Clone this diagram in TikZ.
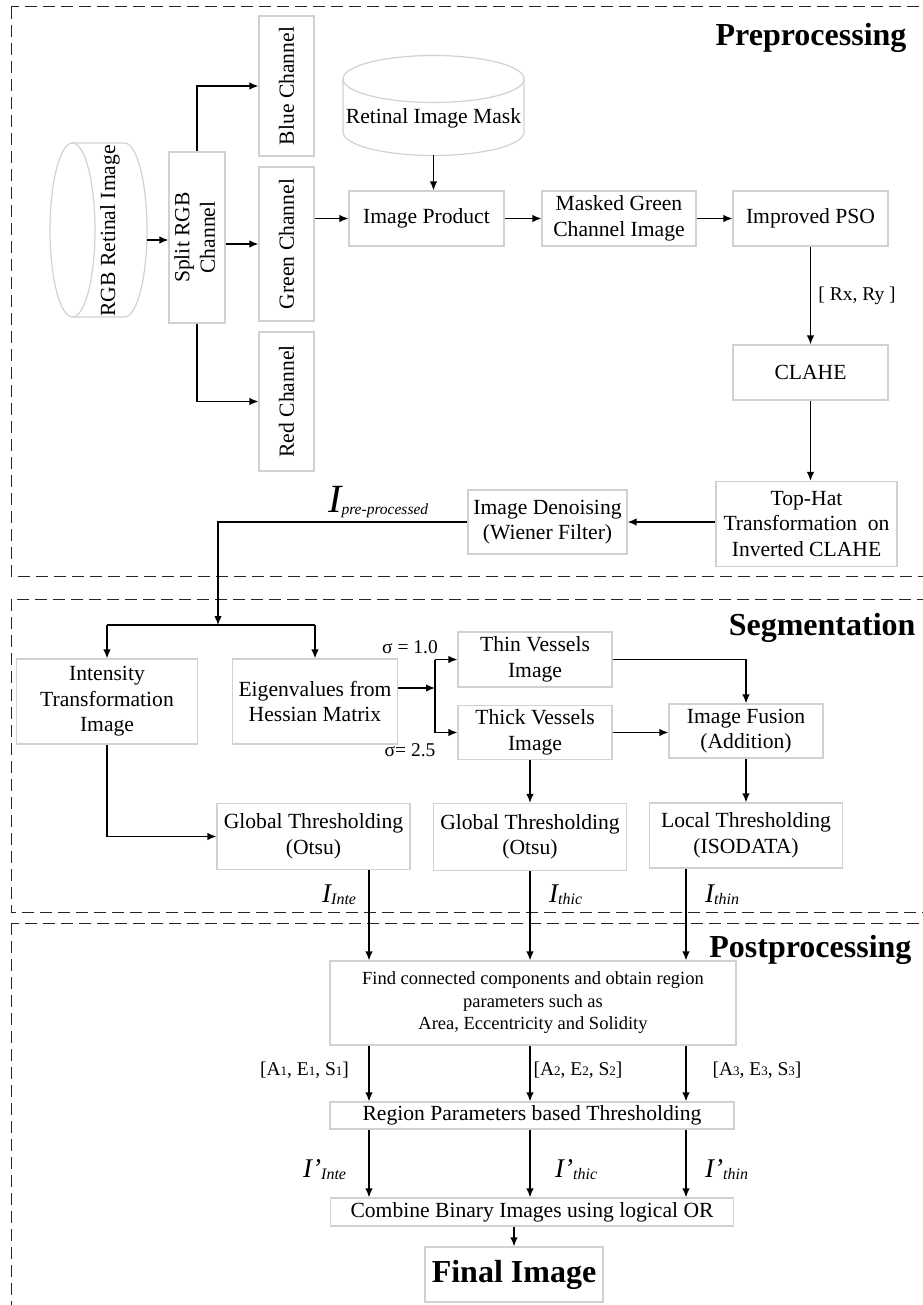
\documentclass[tikz,border=0pt]{standalone}
\usepackage{fontspec}
\setmainfont{Liberation Serif}
\usetikzlibrary{arrows.meta}

\begin{document}
\begin{tikzpicture}[x=1pt, y=-1pt,
        box/.style={draw=black!18, line width=1.2pt, inner sep=0pt, align=center,
            font=\fontsize{21.6}{25.5}\selectfont},
        cyl/.style={draw=black!18, line width=1.2pt},
        arr/.style={-{Latex[length=9pt,width=7.5pt]}, line width=1.3pt},
        ln/.style={line width=1.3pt},
        frame/.style={dash pattern=on 12pt off 6pt, line width=1pt, black!85},
        title/.style={anchor=base east, font=\fontsize{32}{36}\selectfont\bfseries},
        lab/.style={font=\fontsize{19.5}{23}\selectfont},
        sig/.style={anchor=base west, inner sep=0pt}]
        \useasboundingbox (0,0) rectangle (922,1305);

        % dashed frames of the three stages
        \draw[frame] (11,7) rectangle (940,576);
        \draw[frame] (11,599) rectangle (940,912);
        \draw[frame] (11,923) rectangle (940,1330);
        \node[title] (tpre) at (910,46) {Preprocessing};
        \node[title] (tseg) at (919,635) {Segmentation};
        \node[title] (tpost) at (915,957) {Postprocessing};

        % preprocessing
        \draw[cyl] (72.5,230) ellipse[x radius=22.5, y radius=87];
        \draw[cyl] (72.5,143) -- (124.5,143) arc[start angle=-90, end angle=90, x radius=22.5, y radius=87] -- (72.5,317);
        \node[box, draw=none] (rgb) at (110,231) {\rotatebox{90}{RGB Retinal Image}};
        \coordinate (rgbR) at (147,240);

        \node[box, minimum width=56, minimum height=171] (split) at (197,237.5) {\rotatebox{90}{\begin{tabular}{@{}c@{}}Split RGB\\Channel\end{tabular}}};
        \node[box, minimum width=55, minimum height=140] (blue) at (286.5,86) {\rotatebox{90}{Blue Channel}};
        \node[box, minimum width=55, minimum height=154] (green) at (286.5,244) {\rotatebox{90}{Green Channel}};
        \node[box, minimum width=55, minimum height=139] (red) at (286.5,401.5) {\rotatebox{90}{Red Channel}};

        \draw[cyl] (433.5,79) ellipse[x radius=90.5, y radius=23.5];
        \draw[cyl] (343,79) -- (343,132) arc[start angle=180, end angle=0, x radius=90.5, y radius=23.5] -- (524,79);
        \node[box, draw=none] (mask) at (433.5,118) {Retinal Image Mask};
        \coordinate (maskB) at (433.5,155.5);

        \node[box, minimum width=155, minimum height=55] (prod) at (426.5,218.5) {Image Product};
        \node[box, minimum width=154, minimum height=55] (masked) at (619,218.5) {Masked Green\\Channel Image};
        \node[box, minimum width=155, minimum height=55] (pso) at (810.5,218.5) {Improved PSO};
        \node[box, minimum width=155, minimum height=55] (clahe) at (810.5,372.5) {CLAHE};
        \node[box, minimum width=181, minimum height=85] (tophat) at (806.5,524) {Top-Hat\\Transformation\ \ on\\Inverted CLAHE};
        \node[box, minimum width=159, minimum height=64] (denoise) at (547.5,522) {Image Denoising\\(Wiener Filter)};

        \draw[arr] (rgbR) -- (rgbR -| split.west);
        \draw[arr] (split.north) |- (blue.west);
        \draw[arr] (split.east |- green.west) -- (green.west);
        \draw[arr] (split.south) |- (red.west);
        \draw[arr] (maskB) -- (maskB |- prod.north);
        \draw[arr] (green.east |- prod.west) -- (prod.west);
        \draw[arr] (prod) -- (masked);
        \draw[arr] (masked) -- (pso);
        \draw[arr] (pso) -- (clahe) node[lab, midway, right=4pt] {[ Rx, Ry ]};
        \draw[arr] (clahe.south) -- (clahe.south |- tophat.north);
        \draw[arr] (tophat.west |- denoise.east) -- (denoise.east);

        % segmentation
        \coordinate (sj) at (218,625);
        \node[sig] (ipre) at (328,512) {\fontsize{40}{40}\selectfont\itshape I\raisebox{-2pt}{\fontsize{15.5}{16}\selectfont pre-processed}};
        \draw[arr] (denoise.west) -| (sj);

        \node[box, minimum width=181, minimum height=85] (intens) at (107,701.5) {Intensity\\Transformation\\Image};
        \node[box, minimum width=165, minimum height=85] (eigen) at (315,701.5) {Eigenvalues from\\Hessian Matrix};
        \node[box, minimum width=154, minimum height=55] (thin) at (535,659.5) {Thin Vessels\\Image};
        \node[box, minimum width=154, minimum height=54] (thick) at (535,732.5) {Thick Vessels\\Image};
        \node[box, minimum width=154, minimum height=54] (fusion) at (746,731) {Image Fusion\\(Addition)};
        \node[box, minimum width=193, minimum height=66] (glob1) at (313.5,836.5) {Global Thresholding\\(Otsu)};
        \node[box, minimum width=193, minimum height=67] (glob2) at (530,837) {Global Thresholding\\(Otsu)};
        \node[box, minimum width=193, minimum height=65] (local) at (746,835.5) {Local Thresholding\\(ISODATA)};

        \draw[ln] (intens.north |- sj) -- (eigen.north |- sj);
        \draw[arr] (intens.north |- sj) -- (intens.north);
        \draw[arr] (eigen.north |- sj) -- (eigen.north);

        \coordinate (hj) at (435,688);
        \draw[arr] (eigen.east |- hj) -- (hj);
        \draw[ln] (hj |- thin.west) -- (hj |- thick.west);
        \draw[arr] (hj |- thin.west) -- (thin.west);
        \draw[arr] (hj |- thick.west) -- (thick.west);
        \node[lab] (s1) at (410,647) {σ = 1.0};
        \node[lab] (s2) at (410,750) {σ= 2.5};

        \draw[arr] (thin.east) -| (fusion.north);
        \draw[arr] (thick.east) -- (thick.east -| fusion.west);
        \draw[arr] (intens.south) |- (glob1.west);
        \draw[arr] (fusion.south) -- (fusion.south |- local.north);

        % postprocessing
        \coordinate (col1) at (369,0);
        \coordinate (col2) at (530,0);
        \coordinate (col3) at (686,0);
        \draw[arr] (thick.south -| col2) -- (glob2.north -| col2);

        \node[box, minimum width=406, minimum height=84, font=\fontsize{18.5}{22.5}\selectfont] (find) at (533,1003)
            {Find connected components and obtain region\\parameters such as\\Area, Eccentricity and Solidity};
        \node[box, minimum width=404, minimum height=27] (region) at (532,1115.5) {Region Parameters based Thresholding};
        \node[box, minimum width=403, minimum height=28] (combine) at (532,1212) {Combine Binary Images using logical OR};
        \node[box, minimum width=178, minimum height=55, font=\fontsize{32}{36}\selectfont\bfseries] (final) at (514,1274.5) {Final Image};

        \draw[arr] (glob1.south -| col1) -- (find.north -| col1);
        \draw[arr] (glob2.south -| col2) -- (find.north -| col2);
        \draw[arr] (local.south -| col3) -- (find.north -| col3);
        \foreach \c in {col1, col2, col3} {
            \draw[arr] (find.south -| \c) -- (region.north -| \c);
            \draw[arr] (region.south -| \c) -- (combine.north -| \c);
        }
        \draw[arr] (combine.south -| final.north) -- (final.north);

        \node[sig] (iinte) at (322,902) {\fontsize{27}{28}\selectfont\itshape I\raisebox{-2pt}{\fontsize{16}{16}\selectfont Inte}};
        \node[sig] (ithic) at (549,902) {\fontsize{27}{28}\selectfont\itshape I\raisebox{-2pt}{\fontsize{16}{16}\selectfont thic}};
        \node[sig] (ithin) at (705,902) {\fontsize{27}{28}\selectfont\itshape I\raisebox{-2pt}{\fontsize{16}{16}\selectfont thin}};

        \node[lab] (p1) at (304.5,1070) {[A{\fontsize{13}{13}\selectfont 1}, E{\fontsize{13}{13}\selectfont 1}, S{\fontsize{13}{13}\selectfont 1}]};
        \node[lab] (p2) at (578,1070) {[A{\fontsize{13}{13}\selectfont 2}, E{\fontsize{13}{13}\selectfont 2}, S{\fontsize{13}{13}\selectfont 2}]};
        \node[lab] (p3) at (757,1070) {[A{\fontsize{13}{13}\selectfont 3}, E{\fontsize{13}{13}\selectfont 3}, S{\fontsize{13}{13}\selectfont 3}]};

        \node[sig] (jinte) at (303,1177) {\fontsize{27}{28}\selectfont\itshape I'\raisebox{-2pt}{\fontsize{16}{16}\selectfont Inte}};
        \node[sig] (jthic) at (555,1177) {\fontsize{27}{28}\selectfont\itshape I'\raisebox{-2pt}{\fontsize{16}{16}\selectfont thic}};
        \node[sig] (jthin) at (705,1177) {\fontsize{27}{28}\selectfont\itshape I'\raisebox{-2pt}{\fontsize{16}{16}\selectfont thin}};
    \end{tikzpicture}
\end{document}
